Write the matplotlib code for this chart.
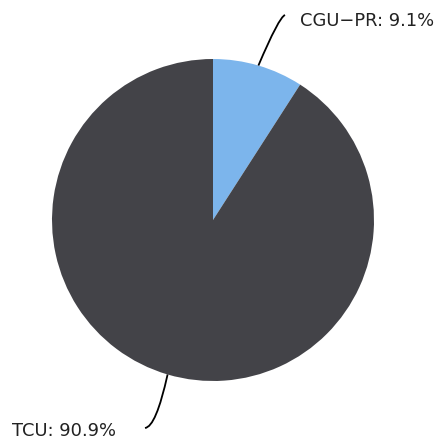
import numpy as np
import matplotlib.pyplot as plt
from matplotlib.path import Path
from matplotlib.patches import PathPatch

# Data
labels = ["CGU\u2212PR", "TCU"]
values = [9.1, 90.9]
colors = ["#7cb5ec", "#434348"]

W, H = 438, 439
plt.rcParams['font.family'] = ['DejaVu Sans']

fig = plt.figure(figsize=(W / 100, H / 100), dpi=100)
ax = fig.add_axes([0, 0, 1, 1])

cx, cy, r = 213, H - 221, 161
wedges, _ = ax.pie(values, colors=colors, startangle=90, counterclock=False,
                   center=(cx, cy), radius=r, wedgeprops=dict(linewidth=0))

ax.set_xlim(0, W)
ax.set_ylim(0, H)
ax.set_aspect('equal')
ax.axis('off')

# label positions (pixel space, y up) and control points for the curved connectors
label_info = [
    # text x, text y, ha, end of line, control point
    (300, H - 21, 'left', (285, H - 16), (279, H - 18)),
    (12, H - 431, 'left', (145, H - 429), (156, H - 428)),
]

for w, lab, v, (tx, ty, ha, end, ctrl) in zip(wedges, labels, values, label_info):
    mid = np.radians((w.theta1 + w.theta2) / 2)
    start = (cx + r * np.cos(mid), cy + r * np.sin(mid))
    path = Path([start, ctrl, end], [Path.MOVETO, Path.CURVE3, Path.CURVE3])
    ax.add_patch(PathPatch(path, fill=False, color='black', lw=1.3))
    ax.text(tx, ty, f"{lab}: {v}%", ha=ha, va='center', fontsize=12.9,
            color='#222222')

fig.savefig("out.png", dpi=100)
